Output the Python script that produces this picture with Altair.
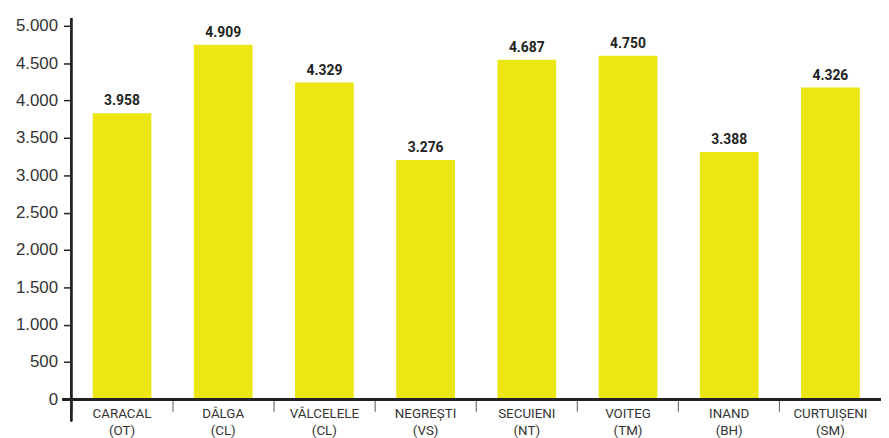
import altair as alt
import pandas as pd

categories = ["CARACAL|(OT)", "DÂLGA|(CL)", "VÂLCELELE|(CL)", "NEGREȘTI|(VS)",
              "SECUIENI|(NT)", "VOITEG|(TM)", "INAND|(BH)", "CURTUIȘENI|(SM)"]
bar_values = [3830, 4745, 4240, 3205, 4545, 4600, 3310, 4175]
value_labels = ["3.958", "4.909", "4.329", "3.276", "4.687", "4.750", "3.388", "4.326"]
y_ticks = [0, 500, 1000, 1500, 2000, 2500, 3000, 3500, 4000, 4500, 5000]

df = pd.DataFrame({"cat": categories, "val": bar_values, "lab": value_labels})

W, H = 817, 377
BAR = "#ECE612"
FONT = "Liberation Sans"
NARROW = "Roboto"

x = alt.X("cat:N", sort=categories, title=None,
          scale=alt.Scale(paddingInner=0.42, paddingOuter=0.21),
          axis=alt.Axis(domain=False, labelAngle=0, bandPosition=-0.36,
                        ticks=True, tickSize=12, tickColor="#555", tickWidth=1,
                        labelExpr="split(datum.label, '|')",
                        labelFont=NARROW, labelFontSize=13.5, labelColor="#333",
                        labelPadding=-5, labelLineHeight=17, labelBaseline="top",
                        labelOverlap=False, grid=False))
y = alt.Y("val:Q", title=None,
          scale=alt.Scale(domain=[0, 5000], nice=False),
          axis=alt.Axis(values=y_ticks, domain=False, grid=False,
                        tickSize=8, tickColor="#222", tickWidth=1.5,
                        labelFont=FONT, labelFontSize=17, labelColor="#333",
                        labelPadding=6, labelOverlap=False,
                        labelExpr="replace(format(datum.value, ','), ',', '.')"))

base = alt.Chart(df).encode(x=x, y=y)
bars = base.mark_bar(color=BAR)
texts = base.mark_text(font=NARROW, fontSize=14, fontWeight="bold",
                       color="#222", dy=-5, baseline="bottom").encode(text="lab:N")

yline = alt.Chart(df).mark_rule(color="#222", strokeWidth=1.5).encode(
    x=alt.value(0), y=alt.value(-8), y2=alt.value(H + 22))
xline = alt.Chart(df).mark_rule(color="#222", strokeWidth=2.5).encode(
    x=alt.value(-9), x2=alt.value(W), y=alt.value(H))

chart = alt.layer(bars, texts, yline, xline).properties(
    width=W, height=H,
    autosize=alt.AutoSizeParams(type="none"),
    padding={"left": 64, "top": 16, "right": 0, "bottom": 37},
).configure(background="white").configure_view(stroke=None)

chart.save("out.html", embed_options={"renderer": "svg", "actions": False})
